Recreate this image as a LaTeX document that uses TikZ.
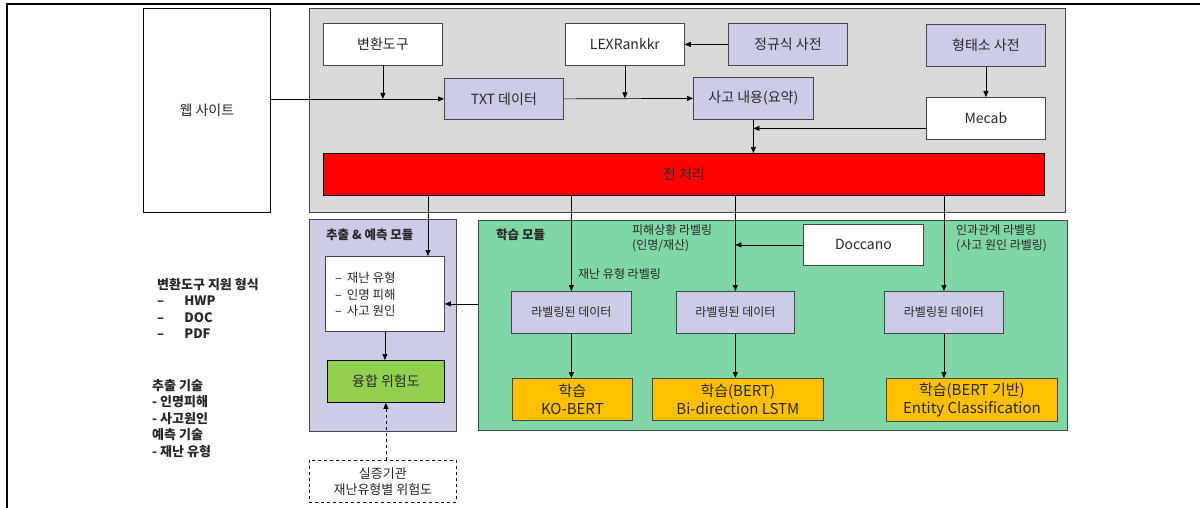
\documentclass[tikz,border=0pt]{standalone}
\usepackage{fontspec}
\setmainfont{Noto Sans CJK KR}
\usetikzlibrary{arrows.meta,calc}
\definecolor{gbg}{RGB}{217,217,217}
\definecolor{lav}{RGB}{204,204,230}
\definecolor{mint}{RGB}{127,214,166}
\definecolor{lgreen}{RGB}{146,208,80}
\definecolor{orng}{RGB}{255,192,0}
\definecolor{txtc}{RGB}{40,40,40}
\definecolor{bord}{RGB}{70,70,70}
\tikzset{
  box/.style={draw=bord, line width=0.8pt, inner sep=0pt, align=center, text=txtc,
              font=\fontsize{14}{17}\selectfont, anchor=north west},
  smallbox/.style={box, font=\fontsize{12}{15}\selectfont},
  bigbox/.style={box, font=\fontsize{15}{18}\selectfont},
  module/.style={draw=bord, line width=1.2pt, anchor=north west, inner sep=0pt},
  arr/.style={-{Triangle[length=6pt,width=5pt]}, line width=0.7pt, black},
  lbl/.style={font=\fontsize{12}{15}\selectfont, align=left, text=txtc, inner sep=0pt},
  ttl/.style={font=\bfseries\fontsize{12.5}{15}\selectfont, text=txtc, inner sep=0pt, anchor=west},
  side/.style={font=\bfseries\fontsize{13}{16.5}\selectfont, align=left, text=txtc, inner sep=0pt, anchor=north west}
}
\begin{document}
\begin{tikzpicture}[x=1pt,y=-1pt]
\useasboundingbox (0,0) rectangle (1200,508);
% outer frame
\draw[line width=1.3pt] (7,508) -- (7,4) -- (1200,4);

% modules
\node[module, fill=gbg, minimum width=756pt, minimum height=204pt] (gray) at (309,8) {};
\node[module, fill=lav, minimum width=147pt, minimum height=212pt] (extm) at (309,219) {};
\node[module, fill=mint, minimum width=589pt, minimum height=210pt] (learn) at (478,220) {};

% web site
\node[box, draw=black, fill=white, minimum width=127pt, minimum height=204pt] (web) at (143,8) {웹 사이트};

% top gray box contents
\node[box, fill=white, minimum width=119pt, minimum height=42pt] (conv) at (323,23) {변환도구};
\node[box, fill=lav, minimum width=119pt, minimum height=41pt] (txt) at (444,78) {TXT 데이터};
\node[box, fill=white, minimum width=119pt, minimum height=42pt] (lex) at (565,23) {LEXRankkr};
\node[box, fill=lav, minimum width=119pt, minimum height=42pt] (regex) at (728,23) {정규식 사전};
\node[box, fill=lav, minimum width=120pt, minimum height=42pt] (sago) at (693,77) {사고 내용(요약)};
\node[box, fill=lav, minimum width=119pt, minimum height=42pt] (morph) at (926,24) {형태소 사전};
\node[box, fill=white, minimum width=119pt, minimum height=42pt] (mecab) at (926,97) {Mecab};
\node[box, draw=black, fill=red, minimum width=721pt, minimum height=42pt] (pre) at (323,153) {전 처리};

% extraction module
\node[ttl] (t1) at (326,235) {추출 \& 예측 모듈};
\node[box, fill=white, minimum width=119pt, minimum height=75pt] (exbox) at (325,256) {};
\node[lbl, anchor=north west, font=\fontsize{12.5}{16.5}\selectfont] (exlist) at (335,272)
  {–\hspace{5pt}재난 유형\\–\hspace{5pt}인명 피해\\–\hspace{5pt}사고 원인};
\node[box, draw=black, fill=lgreen, minimum width=117pt, minimum height=42pt] (fuse) at (327,360) {융합 위험도};
\node[box, draw=black, dashed, fill=white, minimum width=147pt, minimum height=42pt,
      font=\fontsize{13}{16}\selectfont] (cert) at (309,460) {실증기관\\재난유형별 위험도};

% learning module
\node[ttl] (t2) at (496,235) {학습 모듈};
\node[box, fill=white, minimum width=120pt, minimum height=41pt] (doc) at (803,224) {Doccano};
\node[lbl, anchor=north west] (l1) at (632,224) {피해상황 라벨링\\(인명/재산)};
\node[lbl, anchor=west] (l2) at (578,274) {재난 유형 라벨링};
\node[lbl, anchor=north west] (l3) at (956,224) {인과관계 라벨링\\(사고 원인 라벨링)};
\node[smallbox, fill=lav, minimum width=120pt, minimum height=42pt] (lab1) at (511,291) {라벨링된 데이터};
\node[smallbox, fill=lav, minimum width=118pt, minimum height=42pt] (lab2) at (676,291) {라벨링된 데이터};
\node[smallbox, fill=lav, minimum width=119pt, minimum height=42pt] (lab3) at (884,291) {라벨링된 데이터};
\node[bigbox, fill=orng, minimum width=120pt, minimum height=42pt] (or1) at (512,378) {학습\\KO-BERT};
\node[bigbox, fill=orng, minimum width=171pt, minimum height=42pt] (or2) at (652,378) {학습(BERT)\\Bi-direction LSTM};
\node[bigbox, fill=orng, minimum width=171pt, minimum height=43pt] (or3) at (886,378) {학습(BERT 기반)\\Entity Classification};

% left side texts
\node[side] (s1) at (157,278) {변환도구 지원 형식\\–\hspace{20pt}HWP\\–\hspace{20pt}DOC\\–\hspace{20pt}PDF};
\node[side] (s2) at (152,379) {추출 기술\\- 인명피해\\- 사고원인\\예측 기술\\- 재난 유형};

% connectors top
\draw[arr] (web.east |- txt.west) -- (txt.west);
\draw[arr] (conv.south) -- (conv.south |- txt.west);
\draw[arr] (txt.east) -- (sago.west);
\draw[arr] (lex.south) -- (lex.south |- sago.west);
\draw[arr] (regex.west) -- (lex.east);
\draw[arr] (morph.south) -- (mecab.north);
\draw[arr] ([yshift=-10pt]mecab.west) -- ([yshift=-10pt]mecab.west -| sago.south);
\draw[arr] (sago.south) -- (sago.south |- pre.north);

% connectors from preprocessing
\coordinate (d1) at (428,195);
\draw[arr] (d1) -- (d1 |- exbox.north);
\draw[arr] (lab1.north |- pre.south) -- (lab1.north);
\draw[arr] (lab2.north |- pre.south) -- (lab2.north);
\draw[arr] (lab3.north |- pre.south) -- (lab3.north);

% inside modules
\draw[arr] (doc.west) -- (doc.west -| lab2.north);
\draw[arr] (lab1.south) -- (lab1.south |- or1.north);
\draw[arr] (lab2.south) -- (lab2.south |- or2.north);
\draw[arr] (lab3.south) -- (lab3.south |- or3.north);
\draw[arr] ([yshift=-10pt]exbox.east -| learn.west) -- ([yshift=-10pt]exbox.east);
\draw[arr] (exbox.south) -- (exbox.south |- fuse.north);
\draw[arr, dashed] (fuse.south |- cert.north) -- (fuse.south);
\end{tikzpicture}
\end{document}
